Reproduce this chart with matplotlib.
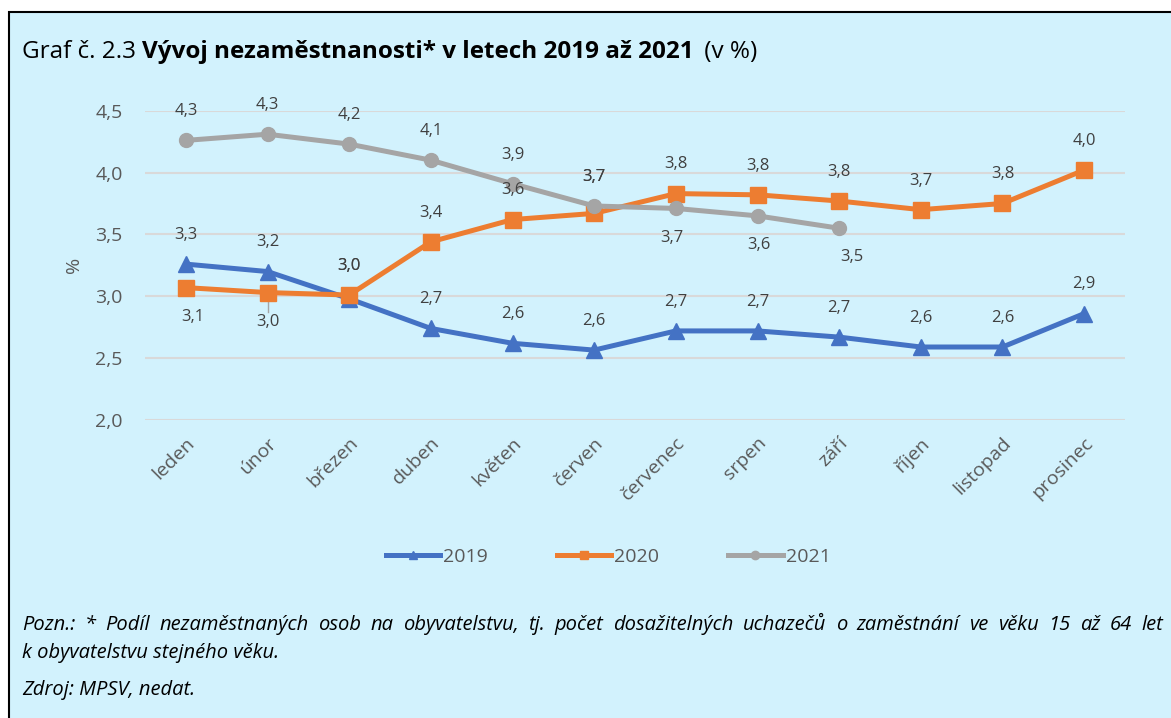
import numpy as np
import matplotlib
matplotlib.use('Agg')
import matplotlib.pyplot as plt
from matplotlib.patches import Rectangle
from matplotlib.lines import Line2D

plt.rcParams['font.family'] = ['Open Sans', 'DejaVu Sans']

months = ['leden', 'únor', 'březen', 'duben', 'květen', 'červen',
          'červenec', 'srpen', 'září', 'říjen', 'listopad', 'prosinec']
v2019 = [3.26, 3.20, 2.98, 2.74, 2.62, 2.565, 2.72, 2.72, 2.67, 2.59, 2.59, 2.86]
v2020 = [3.07, 3.03, 3.01, 3.44, 3.62, 3.67, 3.83, 3.82, 3.77, 3.70, 3.75, 4.02]
v2021 = [4.26, 4.31, 4.23, 4.10, 3.91, 3.73, 3.71, 3.65, 3.55]
yticks = [2.0, 2.5, 3.0, 3.5, 4.0, 4.5]

# label placement: +1 above, -1 below
pos2019 = [1] * 12
pos2020 = [-1, -1, 1, 1, 1, 1, 1, 1, 1, 1, 1, 1]
pos2021 = [1, 1, 1, 1, 1, 1, -1, -1, -1]
dx2021 = [0, 0, 0, 0, 0, 0, -3, 1, 9]
dx2020 = [5, 0, 0, 0, 0, 0, 0, 0, 0, 0, 0, 0]

bg = '#D2F2FD'
txt = '#404040'
fig = plt.figure(figsize=(11.71, 7.18), dpi=100)
fig.patch.set_facecolor('white')
fig.patches.append(Rectangle((9 / 1171, -0.01), 1.0, 1 - 12 / 718 + 0.01,
                             transform=fig.transFigure, facecolor=bg,
                             edgecolor='black', lw=1.5, zorder=-10))

ax = fig.add_axes([145 / 1171, 1 - 420 / 718, (1125 - 145) / 1171, (420 - 110.7) / 718])
ax.set_facecolor('none')
x = np.arange(len(months))

series = [(v2019, '#4472C4', '^', '2019', pos2019, [0] * 12),
          (v2020, '#ED7D31', 's', '2020', pos2020, dx2020),
          (v2021, '#A5A5A5', 'o', '2021', pos2021, dx2021)]
for vals, col, mk, name, pos, dx in series:
    xs = x[:len(vals)]
    ms = 10 if mk == 'o' else 11
    ax.plot(xs, vals, color=col, lw=3.6, marker=mk, markersize=ms, label=name,
            solid_capstyle='round', zorder=3)
    for i, (xi, v, p, d) in enumerate(zip(xs, vals, pos, dx)):
        # where two labels share a spot in the original, stack them exactly
        if name == '2019' and i == 2:
            anchor = (xi, v2020[i])
        elif name == '2020' and i == 5:
            anchor = (xi, v2021[i])
        else:
            anchor = (xi, v)
        ax.annotate(f'{v:.1f}'.replace('.', ','), anchor, xytext=(d, 21 * p),
                    textcoords='offset points', ha='center', va='center',
                    fontsize=12, color=txt, zorder=4)

# leader line for the 2020 "únor" label
ax.plot([1, 1], [2.995, 2.87], color='#A5A5A5', lw=1, zorder=2)

ax.set_xlim(-0.5, 11.5)
ax.set_ylim(2.0, 4.5)
ax.set_yticks(yticks)
ax.set_yticklabels([f'{t:.1f}'.replace('.', ',') for t in yticks], fontsize=14, color='#595959')
ax.set_xticks(x)
ax.set_xticklabels(months, rotation=45, ha='right', rotation_mode='anchor',
                   fontsize=14, color='#595959')
ax.tick_params(axis='y', length=0, pad=16)
ax.tick_params(axis='x', length=0, pad=10)
ax.grid(axis='y', color='#D9D9D9', lw=1.5)
ax.set_axisbelow(True)
for s in ax.spines.values():
    s.set_visible(False)
ax.set_ylabel('%', fontsize=14, color='#595959', labelpad=9)

handles = [Line2D([0], [0], color=c, lw=3.6, marker=m, markersize=6) for _, c, m, *_ in series]
fig.legend(handles, ['2019', '2020', '2021'], loc='center', bbox_to_anchor=(608 / 1171, 1 - 557 / 718),
           ncol=3, frameon=False, fontsize=14, handlelength=2.8, handletextpad=0.15,
           columnspacing=3.55, labelcolor='#595959')

# title made of regular + bold + regular pieces
fig.canvas.draw()
r = fig.canvas.get_renderer()
xpos = 22 / 1171
ty = 1 - 52 / 718
for s, w in [('Graf č. 2.3 ', 'normal'), ('Vývoj nezaměstnanosti* v letech 2019 až 2021', 'bold'), (' (v %)', 'normal')]:
    t = fig.text(xpos, ty, s, fontsize=17.5, fontweight=w, color='black', va='center', ha='left')
    bb = t.get_window_extent(renderer=r)
    xpos += bb.width / fig.bbox.width
    if s.endswith('2021'):
        xpos += 4 / 1171

# first footnote line is justified between x=22 and x=1163
note1 = 'Pozn.: * Podíl nezaměstnaných osob na obyvatelstvu, tj. počet dosažitelných uchazečů o zaměstnání ve věku 15 až 64 let'
words = note1.split(' ')
ny = 1 - 625 / 718
wt = []
for wd in words:
    t = fig.text(0, ny, wd, fontsize=14.5, style='italic', color='black', va='center')
    wt.append(t)
widths = [t.get_window_extent(renderer=r).width for t in wt]
gap = (1163 - 22 - sum(widths)) / (len(words) - 1)
px = 22.0
for t, wdt in zip(wt, widths):
    t.set_x(px / 1171)
    px += wdt + gap

fig.text(22 / 1171, 1 - 653 / 718, 'k obyvatelstvu stejného věku.',
         fontsize=14.5, style='italic', color='black', va='center')
fig.text(22 / 1171, 1 - 690 / 718, 'Zdroj: MPSV, nedat.',
         fontsize=14.5, style='italic', color='black', va='center')

fig.savefig('out.png', dpi=100, facecolor=fig.get_facecolor())
